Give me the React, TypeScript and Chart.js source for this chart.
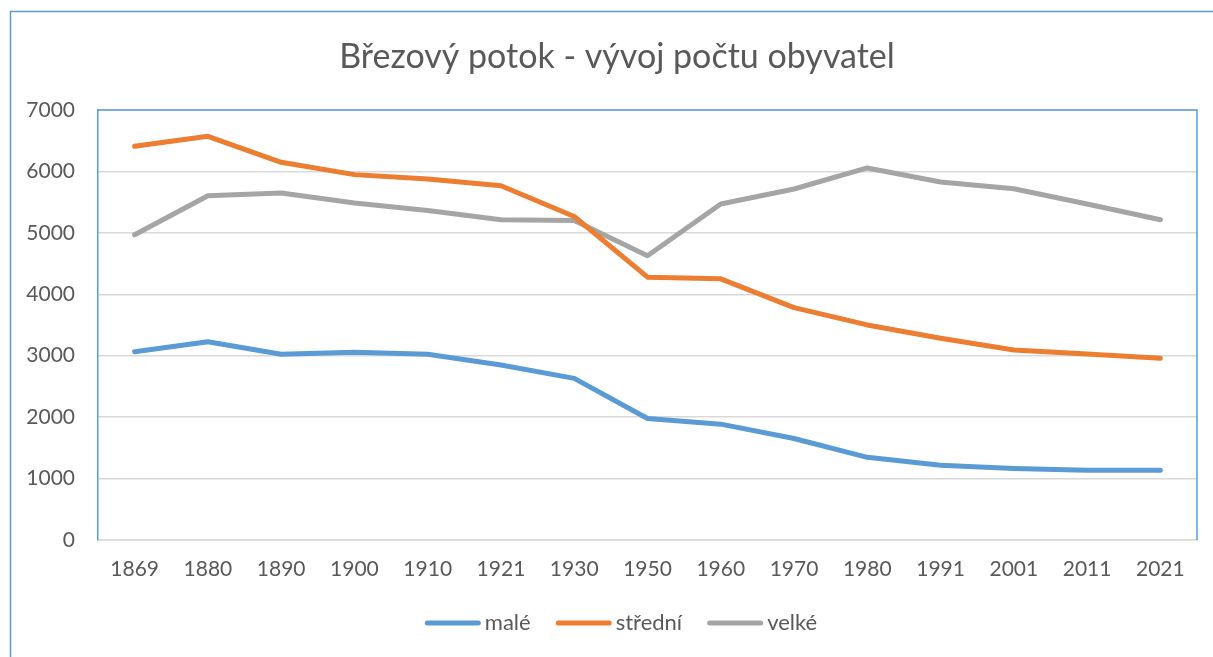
import React, { useEffect, useRef } from "react";
import { Chart, registerables } from "chart.js";

Chart.register(...registerables);

const years = ["1869", "1880", "1890", "1900", "1910", "1921", "1930", "1950", "1960", "1970", "1980", "1991", "2001", "2011", "2021"];
const male = [3065, 3228, 3023, 3055, 3023, 2848, 2631, 1978, 1886, 1653, 1346, 1217, 1163, 1135, 1137];
const stredni = [6409, 6572, 6148, 5948, 5877, 5768, 5267, 4279, 4251, 3783, 3501, 3284, 3093, 3028, 2958];
const velke = [4969, 5605, 5649, 5486, 5365, 5214, 5202, 4626, 5470, 5714, 6057, 5829, 5719, 5470, 5214];
const seriesNames = ["malé", "střední", "velké"];
const seriesColors = ["#5B9BD5", "#ED7D31", "#A5A5A5"];
const titleText = "Březový potok - vývoj počtu obyvatel";

const FONT = "Lato, Carlito, 'Noto Sans', sans-serif";
const FRAME = "#5B9BD5";
const CANVAS_W = 1240;
const CANVAS_H = 657;

const framePlugin = {
  id: "frames",
  beforeDatasetsDraw(chart: any) {
    const { ctx, chartArea } = chart;
    ctx.save();
    ctx.strokeStyle = FRAME;
    ctx.lineWidth = 1.5;
    ctx.beginPath();
    ctx.moveTo(chartArea.left, chartArea.top);
    ctx.lineTo(chartArea.right, chartArea.top);
    ctx.lineTo(chartArea.right, chartArea.bottom);
    ctx.stroke();
    ctx.restore();
  },
  afterDraw(chart: any) {
    const { ctx, width, height } = chart;
    ctx.save();
    ctx.strokeStyle = FRAME;
    ctx.lineWidth = 1.5;
    ctx.beginPath();
    ctx.moveTo(10.5, height + 5);
    ctx.lineTo(10.5, 11.5);
    ctx.lineTo(width + 5, 11.5);
    ctx.stroke();
    ctx.restore();
  },
};

// Excel-like legend: line sample, small gap, label
const legendPlugin = {
  id: "excelLegend",
  afterDraw(chart: any) {
    const { ctx } = chart;
    const lineLen = 56;
    const gap = 4;
    const itemGap = 25;
    ctx.save();
    ctx.font = `22px ${FONT}`;
    const items = chart.data.datasets.map((ds: any) => ({
      label: ds.label,
      color: ds.borderColor,
      w: ctx.measureText(ds.label).width,
    }));
    const total = items.reduce((s: number, it: any) => s + lineLen + gap + it.w, 0) + itemGap * (items.length - 1);
    const center = 621;
    const y = 623;
    let x = center - total / 2;
    items.forEach((it: any) => {
      ctx.strokeStyle = it.color;
      ctx.lineWidth = 5;
      ctx.lineCap = "round";
      ctx.beginPath();
      ctx.moveTo(x + 2.5, y);
      ctx.lineTo(x + lineLen - 2.5, y);
      ctx.stroke();
      ctx.fillStyle = "#595959";
      ctx.textBaseline = "middle";
      ctx.textAlign = "left";
      ctx.fillText(it.label, x + lineLen + gap, y);
      x += lineLen + gap + it.w + itemGap;
    });
    ctx.restore();
  },
};

export default function App() {
  const ref = useRef<HTMLCanvasElement>(null);
  useEffect(() => {
    if (!ref.current) return;
    const seriesData = [male, stredni, velke];
    const chart = new Chart(ref.current, {
      type: "line",
      data: {
        labels: years,
        datasets: seriesNames.map((name, i) => ({
          label: name,
          data: seriesData[i],
          borderColor: seriesColors[i],
          backgroundColor: seriesColors[i],
          borderWidth: 5,
          pointRadius: 0,
          tension: 0,
          borderCapStyle: "round",
          borderJoinStyle: "round",
        })),
      },
      options: {
        responsive: false,
        animation: false,
        layout: { padding: { left: 10, right: 16, top: 30, bottom: 0 } },
        plugins: {
          title: {
            display: true,
            text: titleText,
            color: "#595959",
            font: { family: FONT, size: 34, weight: "normal" },
            padding: { top: 7, bottom: 32.2 },
          },
          legend: { display: false },
          tooltip: { enabled: false },
        },
        scales: {
          x: {
            offset: true,
            grid: { display: false, drawTicks: false },
            border: { color: "#D9D9D9", width: 1.5 },
            ticks: { color: "#595959", font: { family: FONT, size: 21 }, padding: 17, maxRotation: 0, autoSkip: false },
            afterFit(scale: any) { scale.height = 117; },
          },
          y: {
            min: 0,
            max: 7000,
            grid: { color: "#D9D9D9", lineWidth: 1.5, drawTicks: false },
            border: { color: FRAME, width: 1.5 },
            ticks: {
              stepSize: 1000,
              color: "#595959",
              font: { family: FONT, size: 21 },
              padding: 23,
              callback: (v: any) => String(v),
            },
            afterFit(scale: any) { scale.width = 88; },
          },
          yRight: {
            position: "right",
            display: true,
            grid: { display: false, drawTicks: false },
            border: { display: false },
            ticks: { display: false },
            afterFit(scale: any) { scale.width = 27; },
          },
        },
      },
      plugins: [framePlugin, legendPlugin],
    } as any);
    return () => chart.destroy();
  }, []);
  return (
    <div style={{ position: "absolute", left: 0, top: 0, width: 1213, height: 657, overflow: "hidden", background: "#fff" }}>
      <canvas ref={ref} width={CANVAS_W} height={CANVAS_H} style={{ display: "block" }} />
    </div>
  );
}
